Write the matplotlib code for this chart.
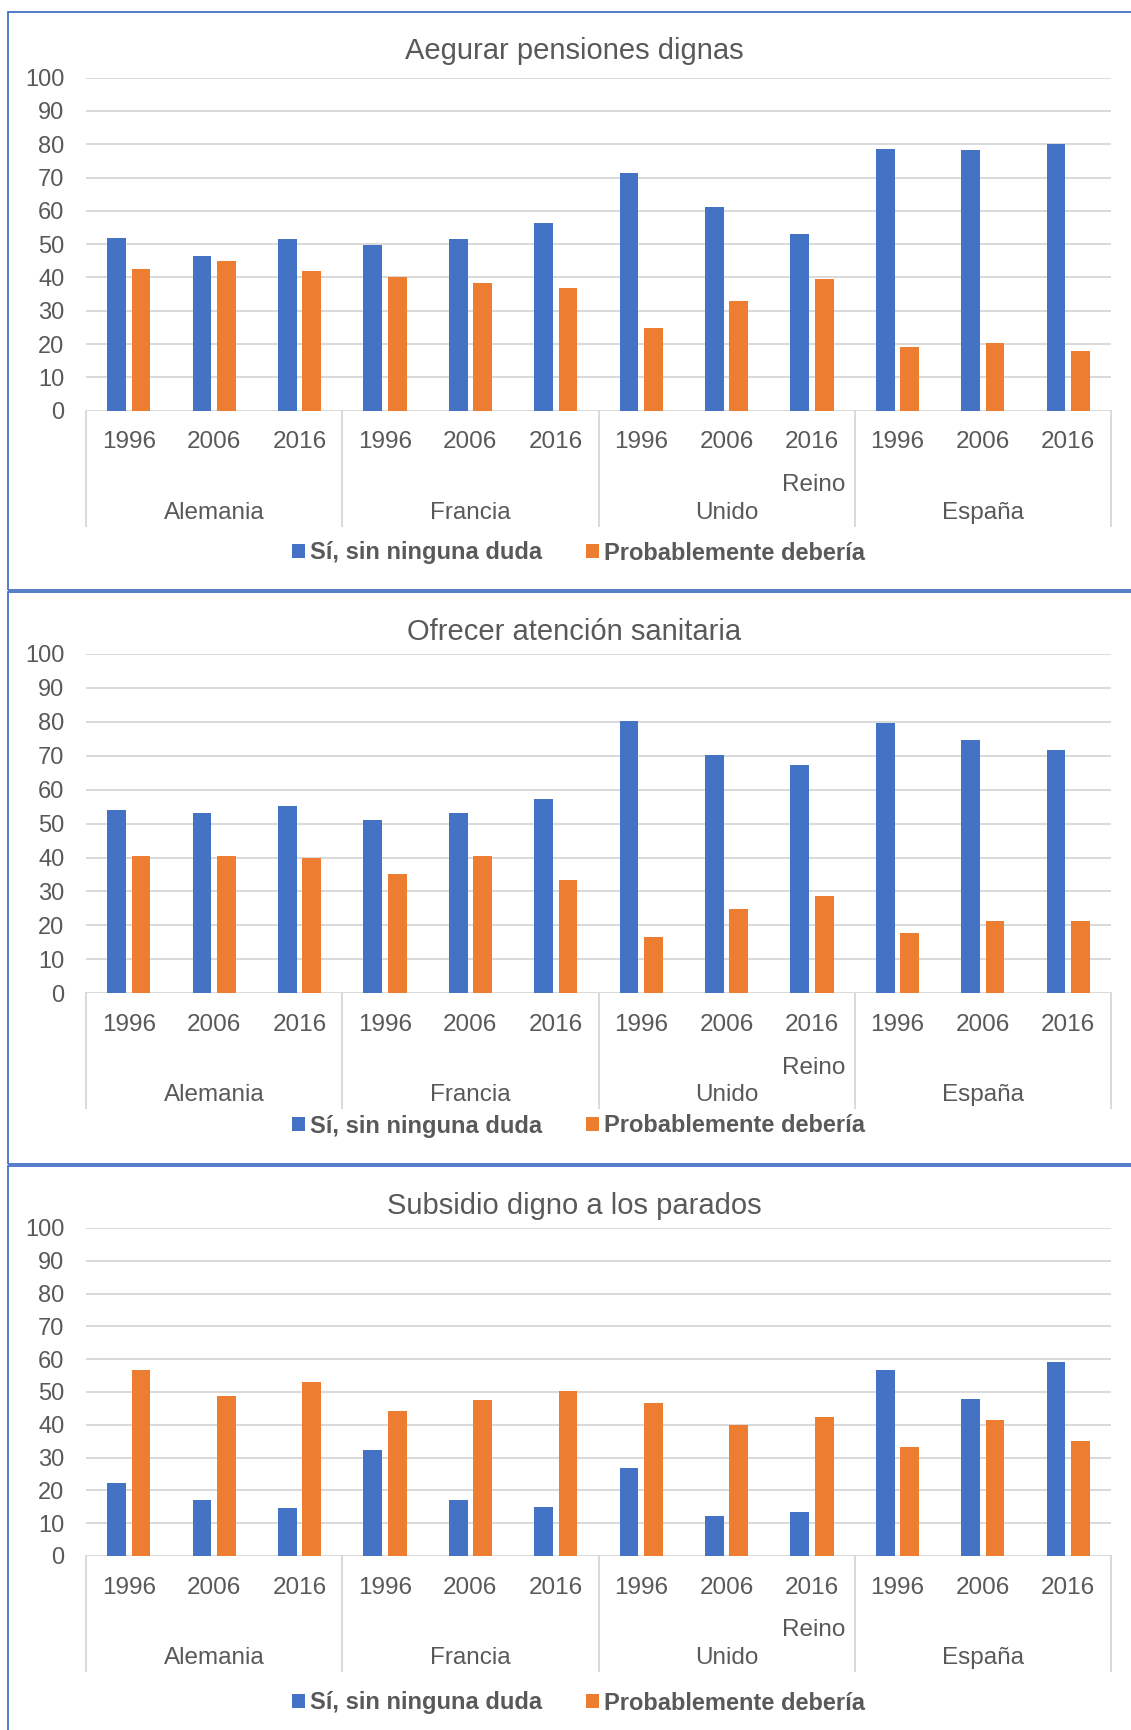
import matplotlib
matplotlib.use("Agg")
import matplotlib.pyplot as plt
from matplotlib.patches import Patch, Rectangle
from matplotlib import transforms

plt.rcParams['font.family'] = ['Liberation Sans', 'DejaVu Sans']

# ---------------- data ----------------
years = ["1996", "2006", "2016"]
countries = ["Alemania", "Francia", "Reino Unido", "España"]
series_names = ["Sí, sin ninguna duda", "Probablemente debería"]
titles = ["Aegurar pensiones dignas", "Ofrecer atención sanitaria", "Subsidio digno a los parados"]

pensiones_si = [51.8, 46.3, 51.6, 49.8, 51.6, 56.4, 71.4, 61.3, 53.0, 78.6, 78.2, 80.2]
pensiones_prob = [42.5, 44.9, 41.8, 40.2, 38.4, 36.8, 24.7, 32.8, 39.4, 19.0, 20.2, 17.9]

sanidad_si = [54.0, 53.1, 55.1, 51.1, 53.1, 57.2, 80.3, 70.1, 67.4, 79.7, 74.7, 71.6]
sanidad_prob = [40.6, 40.6, 39.8, 35.2, 40.6, 33.5, 16.5, 24.7, 28.6, 17.8, 21.4, 21.2]

parados_si = [22.4, 17.2, 14.7, 32.2, 17.0, 15.0, 26.9, 12.1, 13.3, 56.8, 48.0, 59.1]
parados_prob = [56.8, 48.8, 53.1, 44.3, 47.7, 50.2, 46.5, 39.8, 42.4, 33.1, 41.4, 35.1]

yticks = list(range(0, 101, 10))

# ---------------- style ----------------
BLUE = "#4472C4"
ORANGE = "#ED7D31"
TXT = "#595959"
GRID = "#D9D9D9"
BORDER = "#4472C4"

W, H = 1131, 1730
fig = plt.figure(figsize=(W / 100, H / 100), dpi=100)

panels = [
    dict(y100=77.7, y0=410.6, title_y=59.3, leg_y=553, box=(11.5, 590)),
    dict(y100=653.9, y0=993.3, title_y=640, leg_y=1126, box=(592.5, 1164)),
    dict(y100=1228, y0=1556, title_y=1214.5, leg_y=1703, box=(1166, 1770)),
]
data = [(pensiones_si, pensiones_prob), (sanidad_si, sanidad_prob), (parados_si, parados_prob)]

x_left, x_right = 86, 1111
title_x = 574
bar_w = 0.22
off = 0.143

for p, title, (si, prob) in zip(panels, titles, data):
    # border
    top, bot = p["box"]
    fig.patches.append(Rectangle((7.5 / W, 1 - bot / H), (1150 - 7.5) / W, (bot - top) / H,
                                 transform=fig.transFigure, fill=False,
                                 edgecolor=BORDER, linewidth=1.3))
    ax_h = p["y0"] - p["y100"]
    ax = fig.add_axes([x_left / W, 1 - p["y0"] / H, (x_right - x_left) / W, ax_h / H])
    n = len(si)
    xs = list(range(n))
    ax.bar([x - off for x in xs], si, width=bar_w, color=BLUE, zorder=3)
    ax.bar([x + off for x in xs], prob, width=bar_w, color=ORANGE, zorder=3)
    ax.set_xlim(-0.5, n - 0.5)
    ax.set_ylim(0, 100)
    ax.set_yticks(yticks)
    ax.set_yticklabels([str(v) for v in yticks])
    ax.tick_params(axis='y', length=0, pad=15.5, labelsize=17, labelcolor=TXT)
    ax.set_xticks([])
    for s in ax.spines.values():
        s.set_visible(False)
    for v in yticks:
        ax.axhline(v, color=GRID, linewidth=1.4, zorder=1)

    trans = transforms.blended_transform_factory(ax.transData, ax.transAxes)
    fy = lambda px: -px / ax_h
    # year labels
    for i in xs:
        ax.text(i, fy(37.5), years[i % 3], transform=trans, ha='center', va='baseline',
                fontsize=17.5, color=TXT)
    # country labels
    for g, c in enumerate(countries):
        center = g * 3 + 1
        if c == "Reino Unido":
            ax.text(center + 1.02, fy(80.5), "Reino", transform=trans, ha='center',
                    va='baseline', fontsize=17.5, color=TXT)
            ax.text(center, fy(108), "Unido", transform=trans, ha='center',
                    va='baseline', fontsize=17.5, color=TXT)
        else:
            ax.text(center, fy(108), c, transform=trans, ha='center', va='baseline',
                    fontsize=17.5, color=TXT)
    # separators
    for b in range(len(countries) + 1):
        xb = b * 3 - 0.5
        ax.plot([xb, xb], [0, fy(115)], transform=trans, color=GRID, linewidth=1.4,
                clip_on=False, zorder=1)

    # title
    fig.text(title_x / W, 1 - p["title_y"] / H, title, ha='center', va='baseline',
             fontsize=21, color=TXT)

    # legend
    handles = [Patch(facecolor=BLUE, edgecolor='none'), Patch(facecolor=ORANGE, edgecolor='none')]
    fig.legend(handles, series_names, loc='center', ncol=2,
               bbox_to_anchor=(578.5 / W, 1 - p["leg_y"] / H), frameon=False,
               prop={'size': 17, 'weight': 'bold'}, labelcolor=TXT,
               handlelength=0.55, handleheight=0.55, handletextpad=0.2,
               columnspacing=1.9, borderpad=0, borderaxespad=0)

fig.savefig("out.png", dpi=100)
